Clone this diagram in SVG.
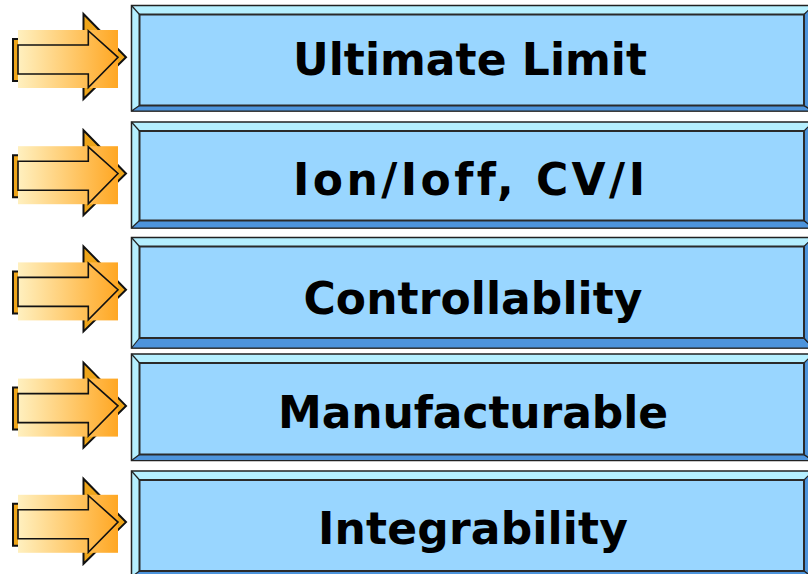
<svg xmlns="http://www.w3.org/2000/svg" xmlns:xlink="http://www.w3.org/1999/xlink" width="808" height="574" viewBox="0 0 808 574">
<style>
.outer{fill:#b5efff;stroke:#222;stroke-width:1.5}
.inner{fill:#99d6ff;stroke:#2a2a2a;stroke-width:2}
.dark{fill:#4d94dc;stroke:#222;stroke-width:1.2;stroke-linejoin:round}
.diag{stroke:#222;stroke-width:1.2;fill:none}
.back{fill:#eea51a;stroke:#111;stroke-width:2;stroke-linejoin:miter}
.front{fill:none;stroke:#111;stroke-width:1.6;stroke-linejoin:miter}
.lbl{font-family:"DejaVu Sans",Verdana,sans-serif;font-weight:bold;font-size:44px;fill:#000;text-anchor:middle;font-variant-ligatures:none;font-feature-settings:"liga" 0,"clig" 0}
</style>
<defs>
<linearGradient id="g" x1="0" y1="0" x2="1" y2="0">
<stop offset="0" stop-color="#fff0bf"/>
<stop offset="1" stop-color="#ffa723"/>
</linearGradient>
<g id="arrow">
<polygon class="back" points="13,39 83.5,39 83.5,14 126,57.3 83.5,99 83.5,81 13,81"/>
<rect x="18" y="30" width="100" height="58" fill="url(#g)"/>
<polygon class="front" points="18,45 88.3,45 88.3,30.7 118,57.3 88.3,87.5 88.3,74 18,74"/>
</g>
</defs>

<g id="connectors">
<use id="arrow1" xlink:href="#arrow"/>
<use id="arrow2" xlink:href="#arrow" transform="translate(0,116.2)"/>
<use id="arrow3" xlink:href="#arrow" transform="translate(0,232.4)"/>
<use id="arrow4" xlink:href="#arrow" transform="translate(0,348.6)"/>
<use id="arrow5" xlink:href="#arrow" transform="translate(0,464.8)"/>
</g>

<g id="node1">
<rect class="outer" x="131.5" y="5.5" width="682" height="105.5"/>
<polygon class="dark" points="131.5,111 139.5,105.5 804,105.5 813,111"/>
<polygon class="dark" points="804,14.5 813,5.5 813,111 804,105.5"/>
<rect class="inner" x="139.5" y="14.5" width="664.5" height="91"/>
<line class="diag" x1="131.5" y1="5.5" x2="139.5" y2="14.5"/>
<text class="lbl" x="470" y="75.3" textLength="354" lengthAdjust="spacing">Ultimate Limit</text>
</g>

<g id="node2">
<rect class="outer" x="131.5" y="122" width="682" height="106"/>
<polygon class="dark" points="131.5,228 139.5,220.5 804,220.5 813,228"/>
<polygon class="dark" points="804,131 813,122 813,228 804,220.5"/>
<rect class="inner" x="139.5" y="131" width="664.5" height="89.5"/>
<line class="diag" x1="131.5" y1="122" x2="139.5" y2="131"/>
<text class="lbl" x="469" y="195.3" textLength="352" lengthAdjust="spacing">Ion/Ioff, CV/I</text>
</g>

<g id="node3">
<rect class="outer" x="131.5" y="237.5" width="682" height="110.5"/>
<polygon class="dark" points="131.5,348 139.5,338 804,338 813,348"/>
<polygon class="dark" points="804,246.5 813,237.5 813,348 804,338"/>
<rect class="inner" x="139.5" y="246.5" width="664.5" height="91.5"/>
<line class="diag" x1="131.5" y1="237.5" x2="139.5" y2="246.5"/>
<text class="lbl" x="473" y="314" textLength="339" lengthAdjust="spacing">Controllablity</text>
</g>

<g id="node4">
<rect class="outer" x="131.5" y="354" width="682" height="106.5"/>
<polygon class="dark" points="131.5,460.5 139.5,454.5 804,454.5 813,460.5"/>
<polygon class="dark" points="804,363 813,354 813,460.5 804,454.5"/>
<rect class="inner" x="139.5" y="363" width="664.5" height="91.5"/>
<line class="diag" x1="131.5" y1="354" x2="139.5" y2="363"/>
<text class="lbl" x="473" y="428.3" textLength="390" lengthAdjust="spacing">Manufacturable</text>
</g>

<g id="node5">
<rect class="outer" x="131.5" y="471" width="682" height="106"/>
<polygon class="dark" points="131.5,577 139.5,571 804,571 813,577"/>
<polygon class="dark" points="804,480 813,471 813,577 804,571"/>
<rect class="inner" x="139.5" y="480" width="664.5" height="91"/>
<line class="diag" x1="131.5" y1="471" x2="139.5" y2="480"/>
<text class="lbl" x="473" y="544.3" textLength="310" lengthAdjust="spacing">Integrability</text>
</g>
</svg>
